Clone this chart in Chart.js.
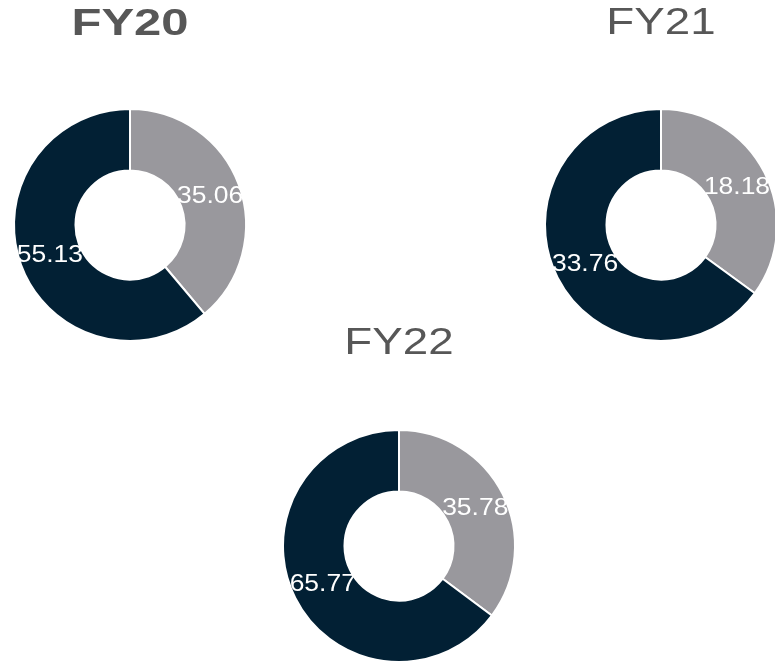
<!DOCTYPE html>
<html>
<head>
<meta charset="utf-8">
<script src="https://cdn.jsdelivr.net/npm/chart.js@4.4.1/dist/chart.umd.min.js"></script>
<style>
  html, body { margin: 0; padding: 0; background: #fff; overflow: hidden; width: 775px; height: 665px; }
  .pane { position: absolute; left: 0; top: 0; width: 800px; height: 665px; }
</style>
</head>
<body>
<div class="pane"><canvas id="fy20"></canvas></div>
<div class="pane"><canvas id="fy21"></canvas></div>
<div class="pane"><canvas id="fy22"></canvas></div>
<script>
// Fiscal years, one ring each
const periods = ['FY20', 'FY21', 'FY22'];
// The two parts of each ring, in drawing order (clockwise from 12 o'clock)
const parts = ['Part 1', 'Part 2'];
const part1Values = [35.06, 18.18, 35.78];
const part2Values = [55.13, 33.76, 65.77];

const partColors = ['#99989d', '#022034'];

// Where each ring sits on the page
const placement = [
  { canvas: 'fy20', cx: 130, cy: 225, titleY: 25,    bold: true  },
  { canvas: 'fy21', cx: 661, cy: 225, titleY: 24.5,  bold: false },
  { canvas: 'fy22', cx: 399, cy: 546, titleY: 344.5, bold: false }
];

const PANE_W = 800, PANE_H = 665;
const TITLE_SIZE = 36, TITLE_LH = 1.2;
const HALF = 118;
const TEXT_FONT = "'Liberation Sans', Arial, sans-serif";

// Extended (horizontally widened) lettering for the title
const wideTitle = {
  id: 'wideTitle',
  beforeDraw(chart, args, opts) {
    const ctx = chart.ctx;
    const cx = (chart.chartArea.left + chart.chartArea.right) / 2;
    ctx.save();
    ctx.translate(cx, 0);
    ctx.scale(opts.sx || 1, 1);
    ctx.translate(-cx, 0);
  },
  beforeDatasetsDraw(chart) { chart.ctx.restore(); }
};

// Value printed at the middle of each arc, in the same widened lettering
const arcValues = {
  id: 'arcValues',
  afterDatasetsDraw(chart) {
    const ctx = chart.ctx;
    const ds = chart.data.datasets[0];
    chart.getDatasetMeta(0).data.forEach((arc, i) => {
      const p = arc.tooltipPosition();
      ctx.save();
      ctx.translate(p.x, p.y);
      ctx.scale(1.15, 1);
      ctx.font = '23px ' + TEXT_FONT;
      ctx.fillStyle = '#ffffff';
      ctx.textAlign = 'center';
      ctx.textBaseline = 'middle';
      ctx.fillText(ds.data[i].toFixed(2), 0, 1);
      ctx.restore();
    });
  }
};

periods.forEach((period, k) => {
  const pl = placement[k];
  const halfTitle = TITLE_SIZE * TITLE_LH / 2;
  const padTop = pl.titleY - halfTitle;
  const padBottom = (pl.cy - HALF) - (pl.titleY + halfTitle);
  new Chart(document.getElementById(pl.canvas), {
    type: 'doughnut',
    data: {
      labels: parts,
      datasets: [{
        data: [part1Values[k], part2Values[k]],
        backgroundColor: partColors,
        borderColor: '#ffffff',
        borderWidth: 2
      }]
    },
    options: {
      responsive: true,
      maintainAspectRatio: false,
      animation: false,
      radius: 116,
      cutout: 55,
      layout: {
        padding: {
          left: pl.cx - 130,
          right: PANE_W - (pl.cx + 130),
          top: 0,
          bottom: PANE_H - (pl.cy + HALF)
        }
      },
      plugins: {
        legend: { display: false },
        tooltip: { enabled: false },
        wideTitle: { sx: pl.bold ? 1.36 : 1.27 },
        title: {
          display: true,
          text: period,
          color: '#575757',
          font: { family: TEXT_FONT, size: TITLE_SIZE, weight: pl.bold ? 'bold' : 'normal', lineHeight: TITLE_LH },
          padding: { top: padTop, bottom: padBottom }
        }
      }
    },
    plugins: [wideTitle, arcValues]
  });
});
</script>
</body>
</html>
